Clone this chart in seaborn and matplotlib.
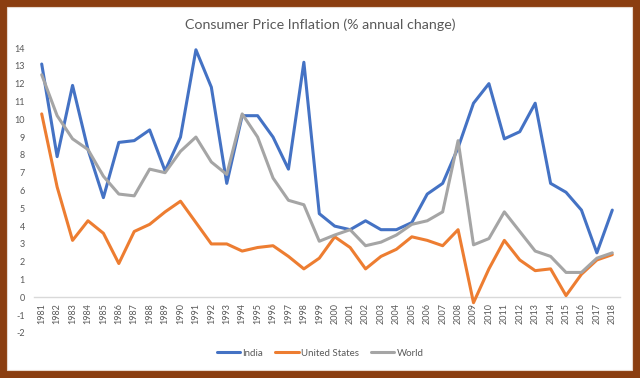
import matplotlib
matplotlib.use("Agg")
import matplotlib.pyplot as plt
import seaborn as sns
import pandas as pd
from matplotlib.patches import Rectangle

years = list(range(1981, 2019))
india = [13.1, 7.9, 11.9, 8.3, 5.6, 8.7, 8.8, 9.4, 7.1, 9.0,
         13.9, 11.8, 6.4, 10.2, 10.2, 9.0, 7.2, 13.2, 4.7, 4.0,
         3.8, 4.3, 3.8, 3.8, 4.2, 5.8, 6.4, 8.4, 10.9, 12.0,
         8.9, 9.3, 10.9, 6.4, 5.9, 4.9, 2.5, 4.9]
us = [10.3, 6.2, 3.2, 4.3, 3.6, 1.9, 3.7, 4.1, 4.8, 5.4,
      4.2, 3.0, 3.0, 2.6, 2.8, 2.9, 2.3, 1.6, 2.2, 3.4,
      2.8, 1.6, 2.3, 2.7, 3.4, 3.2, 2.9, 3.8, -0.3, 1.6,
      3.2, 2.1, 1.5, 1.6, 0.1, 1.3, 2.1, 2.4]
world = [12.5, 10.2, 8.9, 8.3, 6.8, 5.8, 5.7, 7.2, 7.0, 8.2,
         9.0, 7.6, 6.9, 10.3, 9.0, 6.7, 5.45, 5.2, 3.15, 3.5,
         3.8, 2.9, 3.1, 3.5, 4.1, 4.3, 4.8, 8.8, 2.95, 3.3,
         4.8, 3.7, 2.6, 2.3, 1.4, 1.4, 2.2, 2.5]
series_names = ["India", "United States", "World"]
colors = ["#4472C4", "#ED7D31", "#A5A5A5"]
yticks = list(range(-2, 15))

df = pd.DataFrame({
    "Year": years * 3,
    "Value": india + us + world,
    "Series": [series_names[0]] * len(years) + [series_names[1]] * len(years) + [series_names[2]] * len(years),
})

sns.set_style("white")
plt.rcParams["font.family"] = ["Lato", "DejaVu Sans"]

W, H = 640, 378
fig = plt.figure(figsize=(W / 100, H / 100), dpi=100)
fig.patch.set_facecolor("#8B3E10")
fig.patches.append(Rectangle((7 / W, 8 / H), 625 / W, 363 / H, transform=fig.transFigure,
                             facecolor="white", edgecolor="#E8D8CC", linewidth=0.8, zorder=-10))

ax = fig.add_axes([34 / W, (H - 333) / H, 586 / W, 285 / H])
ax.set_facecolor("none")
sns.lineplot(data=df, x="Year", y="Value", hue="Series", palette=colors,
             hue_order=series_names, linewidth=2.2, ax=ax, legend=False)

for s in ["top", "right", "left"]:
    ax.spines[s].set_visible(False)
ax.spines["bottom"].set_position(("data", 0))
ax.spines["bottom"].set_color("#D9D9D9")
ax.spines["bottom"].set_linewidth(1.0)
ax.spines["bottom"].set_zorder(0)

ax.set_xlim(1980.5, 2018.5)
ax.set_ylim(-2, 14)
ax.set_yticks(yticks)
ax.set_yticklabels([str(v) for v in yticks])
ax.set_xticks(years)
ax.set_xticklabels([str(y) for y in years])
ax.set_xlabel("")
ax.set_ylabel("")

ax.tick_params(axis="x", length=0, pad=4, labelsize=6.5, labelcolor="#595959", labelrotation=90)
ax.tick_params(axis="y", length=0, pad=6.5, labelsize=6.5, labelcolor="#595959")

fig.text(0.5, 1 - 25 / H, "Consumer Price Inflation (% annual change)",
         ha="center", va="center", fontsize=10.3, color="#595959")

handles = [plt.Line2D([], [], color=c, linewidth=2.2) for c in colors]
fig.legend(handles, series_names, loc="center", bbox_to_anchor=(0.5, 1 - 353 / H),
           ncol=3, frameon=False, fontsize=7, labelcolor="#595959",
           handlelength=2.4, handletextpad=0.2, columnspacing=1.3)

fig.savefig("out.png", dpi=100, facecolor=fig.get_facecolor())
